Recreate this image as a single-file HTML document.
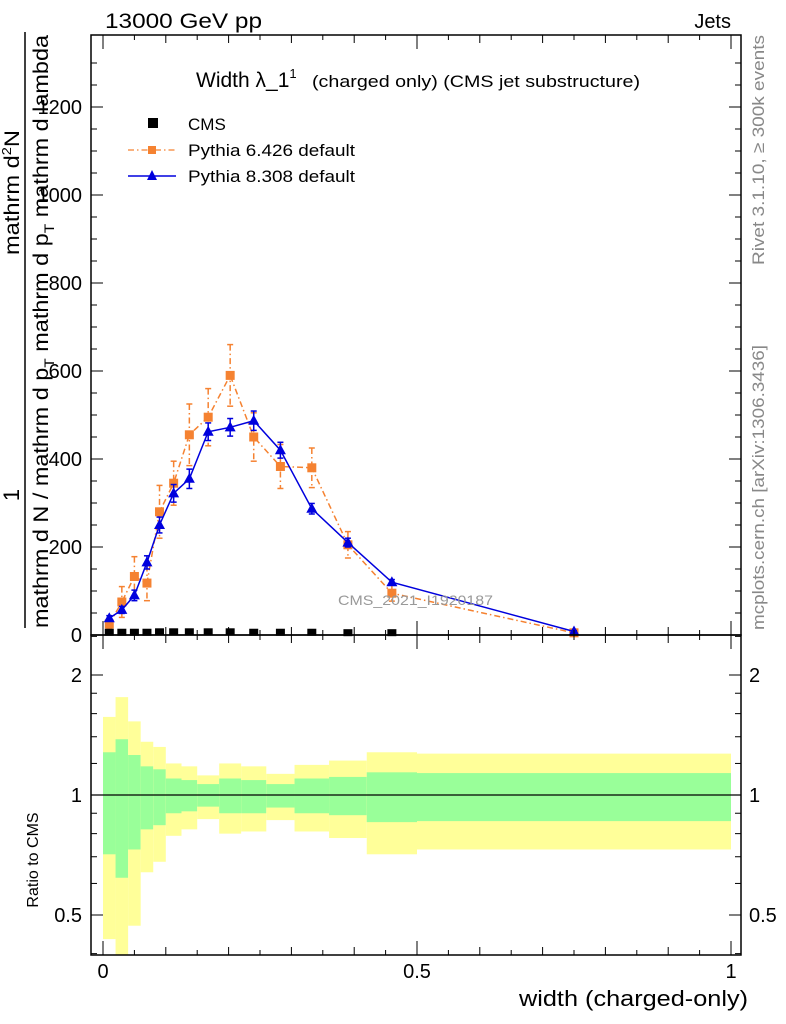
<!DOCTYPE html>
<html><head><meta charset="utf-8"><style>
body{margin:0;background:#fff;}
svg{display:block;font-family:"Liberation Sans",sans-serif;}
</style></head><body>
<svg id="c" width="786" height="1024" viewBox="0 0 786 1024">
<rect width="786" height="1024" fill="#fff"/>
<g id="ratio"></g>
<g id="main"></g>
<g id="frames"></g>
<g id="texts">
<text x="105" y="28" font-size="21" textLength="157" lengthAdjust="spacingAndGlyphs">13000 GeV pp</text>
<text x="731" y="28" font-size="20" text-anchor="end">Jets</text>
<text x="196" y="87" font-size="21">Width λ_1<tspan font-size="13" dy="-9">1</tspan></text>
<text x="312" y="87" font-size="17" textLength="328" lengthAdjust="spacingAndGlyphs">(charged only) (CMS jet substructure)</text>
<text x="748" y="1006" font-size="22" text-anchor="end" textLength="229" lengthAdjust="spacingAndGlyphs">width (charged-only)</text>
<text transform="translate(764,630) rotate(-90)" font-size="17" fill="#888" textLength="285" lengthAdjust="spacingAndGlyphs">mcplots.cern.ch [arXiv:1306.3436]</text>
<text transform="translate(764,265) rotate(-90)" font-size="17" fill="#888" textLength="230" lengthAdjust="spacingAndGlyphs">Rivet 3.1.10, ≥ 300k events</text>
<text x="338" y="605" font-size="14" fill="#999" textLength="155" lengthAdjust="spacingAndGlyphs">CMS_2021_I1920187</text>
<text transform="translate(38,860) rotate(-90)" font-size="16" text-anchor="middle">Ratio to CMS</text>
<g>
<text transform="translate(19,495) rotate(-90)" font-size="22" text-anchor="middle">1</text>
<line x1="25" y1="628" x2="25" y2="32" stroke="#000" stroke-width="1.5"/>
<text transform="translate(48,628) rotate(-90)" font-size="21" textLength="593" lengthAdjust="spacingAndGlyphs">mathrm d N / mathrm d p<tspan font-size="14" dy="6">T</tspan><tspan dy="-6"> mathrm d p</tspan><tspan font-size="14" dy="6">T</tspan><tspan dy="-6"> mathrm d lambda</tspan></text>
<text transform="translate(19,255) rotate(-90)" font-size="21" textLength="125" lengthAdjust="spacingAndGlyphs">mathrm d<tspan font-size="13" dy="-8">2</tspan><tspan dy="8">N</tspan></text>
</g>
</g>
<g id="legend">
<rect x="148" y="118" width="10" height="10" fill="#000"/>
<text x="188" y="130" font-size="17">CMS</text>
<line x1="128" y1="150" x2="176" y2="150" stroke="#f58231" stroke-width="1.3" stroke-dasharray="6,3,1.5,3"/>
<rect x="148" y="146" width="8" height="8" fill="#f58231"/>
<text x="188" y="156" font-size="17" textLength="167" lengthAdjust="spacingAndGlyphs">Pythia 6.426 default</text>
<line x1="128" y1="176" x2="176" y2="176" stroke="#0000dd" stroke-width="1.5"/>
<polygon points="152,170 157,180 147,180" fill="#0000dd"/>
<text x="188" y="182" font-size="17" textLength="167" lengthAdjust="spacingAndGlyphs">Pythia 8.308 default</text>
</g>
</svg>
<script>
const binEdges=[0,0.02,0.04,0.06,0.08,0.1,0.125,0.15,0.185,0.22,0.26,0.305,0.36,0.42,0.5,1.0];
const cmsVals=[4,4,4,4,5,5,5,5,5,4,4,4,3,3,0.5];
const py6Vals=[25,75,133,118,280,345,455,495,590,450,383,380,205,95,5];
const py6Errs=[12,35,45,40,60,50,70,65,70,55,50,45,30,18,3];
const py8Vals=[38,57,90,165,250,322,355,462,472,487,420,287,210,120,8];
const py8Errs=[6,8,12,15,18,20,22,20,20,22,18,12,10,6,2];
const yellowHi=[1.57,1.76,1.53,1.36,1.32,1.2,1.18,1.12,1.2,1.18,1.13,1.19,1.22,1.28,1.27];
const greenHi=[1.28,1.38,1.26,1.18,1.16,1.10,1.09,1.065,1.10,1.09,1.065,1.10,1.11,1.14,1.135];
const greenLo=[0.71,0.62,0.73,0.82,0.84,0.90,0.91,0.935,0.90,0.90,0.93,0.90,0.89,0.855,0.86];
const yellowLo=[0.435,0.38,0.47,0.64,0.68,0.79,0.82,0.87,0.80,0.81,0.865,0.81,0.78,0.71,0.73];
const yTicks=[0,200,400,600,800,1000,1200];
const xTicks=[0,0.5,1];
const xTickLabels=["0","0.5","1"];
const rTicks=[0.5,1,2];
const rTickLabels=["0.5","1","2"];

const NS="http://www.w3.org/2000/svg";
const L=91,R=741,T=35,MB=635,RB=955;
const X=v=>103+v*628;
const Y=v=>635-v*0.44;
const RY=v=>795-Math.log2(v)*120;
function mk(tag,attrs,parent){const e=document.createElementNS(NS,tag);for(const k in attrs)e.setAttribute(k,attrs[k]);parent.appendChild(e);return e;}
const main=document.getElementById('main'),ratio=document.getElementById('ratio'),frames=document.getElementById('frames');
const centers=binEdges.slice(0,-1).map((e,i)=>(e+binEdges[i+1])/2);

const rclip=mk('clipPath',{id:'rc'},ratio);mk('rect',{x:L,y:MB,width:R-L,height:RB-MB},rclip);
const rg=mk('g',{'clip-path':'url(#rc)'},ratio);
for(let i=0;i<centers.length;i++){
 const x0=X(binEdges[i]),x1=Math.min(X(binEdges[i+1]),R);
 const y=mk('rect',{x:x0,y:RY(yellowHi[i]),width:x1-x0,height:RY(yellowLo[i])-RY(yellowHi[i]),fill:'#ffff99'},rg);
 
 
 const g=mk('rect',{x:x0,y:RY(greenHi[i]),width:x1-x0,height:RY(greenLo[i])-RY(greenHi[i]),fill:'#99ff99'},rg);
 
 
}
const one=mk('line',{x1:L,x2:R,y1:RY(1),y2:RY(1),stroke:'#000','stroke-width':1.2},ratio);



function series(vals,errs,color,dash,marker,name){
 const g=mk('g',{},main);
 
 
 mk('polyline',{points:vals.map((v,i)=>X(centers[i])+','+Y(v)).join(' '),fill:'none',stroke:color,'stroke-width':1.5,'stroke-dasharray':dash},g);
 vals.forEach((v,i)=>{
  const x=X(centers[i]);
  mk('line',{x1:x,x2:x,y1:Y(v+errs[i]),y2:Y(v-errs[i]),stroke:color,'stroke-width':1.5,'stroke-dasharray':dash},g);
  mk('line',{x1:x-3,x2:x+3,y1:Y(v+errs[i]),y2:Y(v+errs[i]),stroke:color,'stroke-width':1.5},g);
  mk('line',{x1:x-3,x2:x+3,y1:Y(v-errs[i]),y2:Y(v-errs[i]),stroke:color,'stroke-width':1.5},g);
  let m;
  if(marker==='sq') m=mk('rect',{x:x-4.5,y:Y(v)-4.5,width:9,height:9,fill:color},g);
  else m=mk('polygon',{points:`${x},${Y(v)-6} ${x+5.5},${Y(v)+4} ${x-5.5},${Y(v)+4}`,fill:color},g);
  
  
 });
}
series(py6Vals,py6Errs,'#f58231','6,3,1.5,3','sq','pythia6-series');
series(py8Vals,py8Errs,'#0000dd','','tri','pythia8-series');
cmsVals.forEach((v,i)=>{
 if(v<1)return;
 const r=mk('rect',{x:X(centers[i])-4.5,y:Y(v)-4.5,width:9,height:7,fill:'#000'},main);
 
 
});

const f1=mk('rect',{x:L,y:T,width:R-L,height:MB-T,fill:'none',stroke:'#000','stroke-width':1.5},frames);


const f2=mk('rect',{x:L,y:MB,width:R-L,height:RB-MB,fill:'none',stroke:'#000','stroke-width':1.5},frames);


for(let v=0;v<=1300;v+=50){
 const y=Y(v);if(y<T)break;const len=v%200===0?12:6;
 mk('line',{x1:L,x2:L+len,y1:y,y2:y,stroke:'#000'},frames);
 mk('line',{x1:R,x2:R-len,y1:y,y2:y,stroke:'#000'},frames);
}
yTicks.forEach(v=>{
 const t=mk('text',{x:82,y:Y(v)+7,'font-size':20,'text-anchor':'end'},frames);t.textContent=v;
 
 
});
for(let k=0;k<=20;k++){
 const v=k*0.05,x=X(v);const len=k%10===0?14:(k%2===0?8:5);
 [MB,RB].forEach(b=>mk('line',{x1:x,x2:x,y1:b,y2:b-len,stroke:'#000'},frames));
 mk('line',{x1:x,x2:x,y1:T,y2:T+len,stroke:'#000'},frames);
 mk('line',{x1:x,x2:x,y1:MB,y2:MB+len,stroke:'#000'},frames);
}
xTicks.forEach((v,i)=>{
 const t=mk('text',{x:X(v),y:978,'font-size':20,'text-anchor':'middle'},frames);t.textContent=xTickLabels[i];
 
 
});
[0.4,0.5,0.6,0.7,0.8,0.9,1,1.2,1.4,1.6,1.8,2,2.5].forEach(v=>{
 const y=RY(v);if(y<MB||y>RB)return;const len=(v===0.5||v===1||v===2)?12:6;
 mk('line',{x1:L,x2:L+len,y1:y,y2:y,stroke:'#000'},frames);
 mk('line',{x1:R,x2:R-len,y1:y,y2:y,stroke:'#000'},frames);
});
rTicks.forEach((v,i)=>{
 const t=mk('text',{x:82,y:RY(v)+7,'font-size':20,'text-anchor':'end'},frames);t.textContent=rTickLabels[i];
 
 
 const t2=mk('text',{x:749,y:RY(v)+7,'font-size':20},frames);t2.textContent=rTickLabels[i];
 
 
});
</script>
</body></html>
